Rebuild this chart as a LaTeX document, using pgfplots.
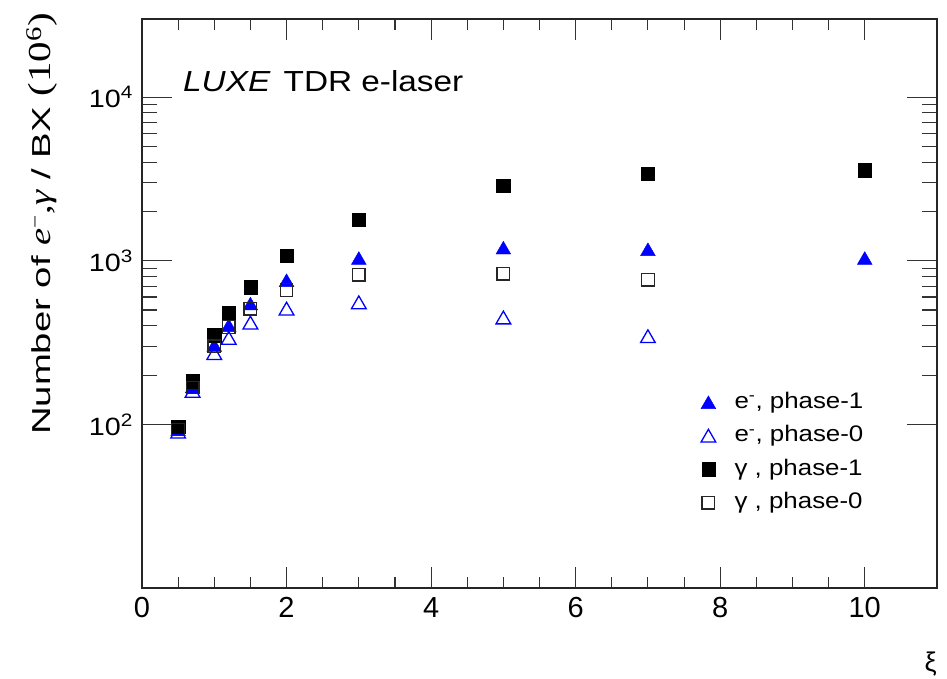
\documentclass[border=0pt]{standalone}
\usepackage{pgfplots}
\pgfplotsset{compat=1.18}
\usepackage{fontspec}
\setmainfont{Liberation Sans}[FakeStretch=1.15]
\newfontfamily\plain{Liberation Sans}
\newfontfamily\serif{Liberation Serif}

\pgfplotstableread{
x y
0.5 93
0.7 170
1.0 305
1.2 403
1.5 546
2 759
3 1037
5 1200
7 1173
10 1037
}\eone
\pgfplotstableread{
x y
0.5 90
0.7 160
1.0 272
1.2 337
1.5 418
2 509
3 556
5 449
7 345
}\ezero
\pgfplotstableread{
x y
0.5 97
0.7 184
1.0 350
1.2 481
1.5 687
2 1074
3 1786
5 2884
7 3400
10 3565
}\gone
\pgfplotstableread{
x y
0.5 93
0.7 168
1.0 300
1.2 393
1.5 509
2 661
3 822
5 834
7 766
}\gzero

\newcommand{\tenp}[1]{10\raisebox{9bp}{\fontsize{18bp}{18bp}\selectfont #1}}

\pgfplotsset{
  common/.style={
    at={(142bp,91bp)}, anchor=south west,
    scale only axis, width=795bp, height=569bp,
    xmin=0, xmax=11, ymin=10, ymax=30000,
    tick align=inside,
    axis line style={line width=1.2bp, black!85},
    every tick/.style={line width=1.1bp, black!80},
    /pgf/number format/assume math mode=true,
  },
  lg/.style={legend image code/.code={\path (0bp,0bp) (36bp,0bp); \draw[mark repeat=2,mark phase=2,##1] plot coordinates {(0bp,0bp) (12bp,0bp) (36bp,0bp)};}},
}

\begin{document}
\fontsize{25bp}{30bp}\selectfont
\begin{tikzpicture}
\path[use as bounding box] (0,0) rectangle (947bp,679bp);
% x ticks
\begin{axis}[ymode=log, common,
  xtick={0,2,4,6,8,10}, minor x tick num=3,
  ytick=\empty, yminorticks=false,
  major tick length=21bp, minor tick length=11bp,
  xticklabel style={font=\plain\fontsize{29bp}{32bp}\selectfont, yshift=-1bp},
]
\end{axis}
% y ticks and data
\begin{axis}[ymode=log, common,
  xtick=\empty, xminorticks=false,
  ytick={100,1000,10000},
  yticklabels={\tenp{2},\tenp{3},\tenp{4}},
  yticklabel style={font=\fontsize{25bp}{30bp}\selectfont, xshift=-1bp},
  major tick length=30bp, minor tick length=15bp,
  legend cell align=left,
  legend style={draw=none, fill=none, at={(rel axis cs:0.6931,0.353)}, anchor=north west,
    font=\fontsize{22.5bp}{27bp}\selectfont, row sep=7.5bp,
    nodes={text height=17bp, text depth=5bp}},
]
\addplot[only marks, lg, mark=triangle*, blue, mark size=8.5bp, mark options={fill=blue, yshift=-2bp}] table {\eone};
\addlegendentry{e\textsuperscript{-}, phase-1}
\addplot[only marks, lg, mark=triangle, blue, mark size=8.5bp, mark options={line width=1.3bp, yshift=-2bp}] table {\ezero};
\addlegendentry{e\textsuperscript{-}, phase-0}
\addplot[only marks, lg, mark=square*, black, mark size=6.7bp] table {\gone};
\addlegendentry{γ , phase-1}
\addplot[only marks, lg, mark=square, black!85, mark size=6.3bp, mark options={line width=1.3bp}] table {\gzero};
\addlegendentry{γ , phase-0}
\end{axis}
\node[anchor=base west, inner sep=0pt, font=\fontsize{29bp}{32bp}\selectfont] at (183bp,587bp) {\textit{LUXE}\hspace{13bp}TDR e-laser};
\node[rotate=90, anchor=base east, inner sep=0pt] at (50bp,666bp)
  {\scalebox{1.28}[1]{\fontsize{26bp}{30bp}\selectfont Number of {\fontsize{30bp}{30bp}\serif\itshape e}\textsuperscript{\serif −}{\fontsize{30bp}{30bp}\serif ,\itshape γ} / BX {\fontsize{32bp}{32bp}\serif (10\textsuperscript{6})}}};
\node[anchor=base east, inner sep=0pt, font=\plain\fontsize{27bp}{30bp}\selectfont] at (937bp,8bp) {ξ};
\end{tikzpicture}
\end{document}
